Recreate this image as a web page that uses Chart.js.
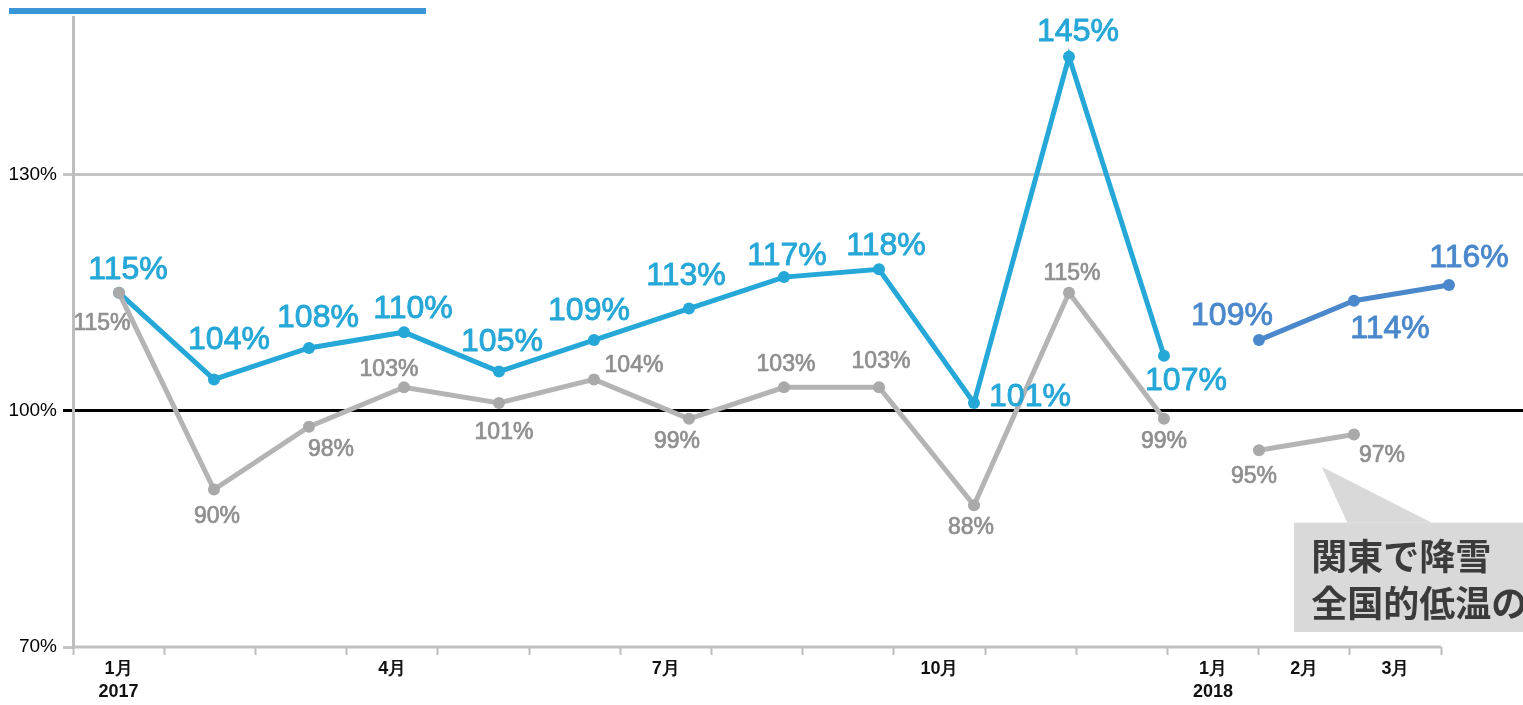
<!DOCTYPE html>
<html lang="ja">
<head>
<meta charset="utf-8">
<title>前年同月比</title>
<script src="https://cdn.jsdelivr.net/npm/chart.js@4.4.1/dist/chart.umd.min.js"></script>
<style>
  html, body { margin: 0; padding: 0; background: #fff; }
  #wrap { width: 1523px; height: 705px; }
</style>
</head>
<body>
<div id="wrap"><canvas id="yoy" width="1523" height="705"></canvas></div>
<script>
// 横軸の目盛りラベル（2017年1月〜2018年3月）
const monthLabels = [['1月', '2017'], '', '', '4月', '', '', '7月', '', '', '10月', '', '', ['1月', '2018'], '2月', '3月'];

// 青：2017年分と2018年分
const main2017 = [115, 104, 108, 110, 105, 109, 113, 117, 118, 101, 145, 107];
const main2018 = [109, 114, 116];
// グレー：2017年分と2018年分
const sub2017 = [115, 90, 98, 103, 101, 104, 99, 103, 103, 88, 115, 99];
const sub2018 = [95, 97];

// 縦軸の目盛り
const yTicks = [70, 100, 130];

// 吹き出しの文言
const noteLines = ['関東で降雪', '全国的低温の'];

// ラベルの位置ずらし（点からの dx, dy）
const main2017Offsets = [[9, -23], [15, -39], [9, -30], [9, -23], [3, -29], [-5, -29], [-3, -32], [3, -21], [7, -23], [56, -6], [9, -25], [22, 25]];
const main2018Offsets = [[-27, -24], [36, 28], [20, -27]];
const sub2017Offsets = [[-17, 31], [3, 27], [22, 23], [-15, -18], [5, 30], [40, -14], [-12, 23], [2, -23], [2, -26], [-3, 22], [3, -19], [0, 23]];
const sub2018Offsets = [[-5, 26], [28, 21]];

const CYAN = '#25a7d7';
const STEEL = '#4a88cb';
const GREY_LINE = '#b4b4b4';
const GREY_TEXT = '#8f8f8f';

function toPoints(values, start) {
    return values.map((v, i) => ({ x: start + i, y: v }));
}

function lineSet(values, start, color, pointColor, offsets, labelColor, labelFont, labelStroke) {
    return {
        data: toPoints(values, start),
        xAxisID: 'xp',
        borderColor: color,
        backgroundColor: pointColor,
        pointBackgroundColor: pointColor,
        pointBorderColor: pointColor,
        borderWidth: 5,
        pointRadius: 6,
        pointBorderWidth: 0,
        tension: 0,
        labelOffsets: offsets,
        labelColor: labelColor,
        labelFont: labelFont,
        labelStroke: labelStroke
    };
}

const bigFont = '32px "Liberation Sans", Arial, sans-serif';
const smallFont = '23px "Liberation Sans", Arial, sans-serif';

// 値ラベルを描く
const valueLabels = {
    id: 'valueLabels',
    afterDatasetsDraw(chart) {
        const ctx = chart.ctx;
        ctx.save();
        ctx.textAlign = 'center';
        ctx.textBaseline = 'middle';
        ctx.lineJoin = 'round';
        chart.data.datasets.forEach((ds, di) => {
            const meta = chart.getDatasetMeta(di);
            ctx.font = ds.labelFont;
            ctx.fillStyle = ds.labelColor;
            ctx.strokeStyle = ds.labelColor;
            ctx.lineWidth = ds.labelStroke;
            meta.data.forEach((pt, i) => {
                const [dx, dy] = ds.labelOffsets[i];
                const text = ds.data[i].y + '%';
                ctx.strokeText(text, pt.x + dx, pt.y + dy);
                ctx.fillText(text, pt.x + dx, pt.y + dy);
            });
        });
        ctx.restore();
    }
};

// 上部の青いライン、横軸の線、吹き出し
const decorations = {
    id: 'decorations',
    beforeDatasetsDraw(chart) {
        const ctx = chart.ctx;
        const area = chart.chartArea;
        const x = chart.scales.x;
        ctx.save();
        ctx.strokeStyle = '#c0c0c0';
        ctx.lineWidth = 3;
        ctx.beginPath();
        ctx.moveTo(area.left, area.bottom);
        ctx.lineTo(x.getPixelForValue(monthLabels.length - 0.5), area.bottom);
        ctx.stroke();

        ctx.fillStyle = '#3a96d6';
        ctx.fillRect(9, 8, 417, 6);
        ctx.restore();
    },
    afterDatasetsDraw(chart) {
        const ctx = chart.ctx;
        const xp = chart.scales.xp;
        const y = chart.scales.y;
        const left = xp.getPixelForValue(12.37);
        const top = y.getPixelForValue(85.8);
        const bottom = y.getPixelForValue(71.9);
        ctx.save();
        ctx.fillStyle = '#d9d9d9';
        ctx.beginPath();
        ctx.moveTo(xp.getPixelForValue(12.66), y.getPixelForValue(92.9));
        ctx.lineTo(xp.getPixelForValue(13.82), top);
        ctx.lineTo(xp.getPixelForValue(12.93), top);
        ctx.closePath();
        ctx.fill();
        ctx.fillRect(left, top, chart.width - left, bottom - top);

        ctx.fillStyle = '#3b3b3b';
        ctx.font = 'bold 36px "Noto Sans CJK JP", sans-serif';
        ctx.textAlign = 'left';
        ctx.textBaseline = 'middle';
        ctx.fillText(noteLines[0], left + 17, top + 34);
        ctx.fillText(noteLines[1], left + 17, top + 81);
        ctx.restore();
    }
};

const ctx = document.getElementById('yoy').getContext('2d');
const chart = new Chart(ctx, {
    type: 'line',
    data: {
        datasets: [
            lineSet(sub2017, 0, GREY_LINE, '#a9a9a9', sub2017Offsets, GREY_TEXT, smallFont, 0.7),
            lineSet(sub2018, 12, GREY_LINE, '#a9a9a9', sub2018Offsets, GREY_TEXT, smallFont, 0.7),
            lineSet(main2017, 0, CYAN, CYAN, main2017Offsets, CYAN, bigFont, 0.9),
            lineSet(main2018, 12, STEEL, STEEL, main2018Offsets, STEEL, bigFont, 0.9)
        ]
    },
    options: {
        responsive: false,
        animation: false,
        layout: { autoPadding: false, padding: { top: 14, right: 0, left: 0, bottom: 0 } },
        plugins: {
            legend: { display: false },
            tooltip: { enabled: false }
        },
        scales: {
            // 目盛り用の軸（月の境目に目盛り線、中央にラベル）
            x: {
                type: 'linear',
                position: 'bottom',
                min: -0.5,
                max: -0.5 + 1450 / 91.2,
                afterBuildTicks: (scale) => {
                    const t = [];
                    for (let i = 0; i <= monthLabels.length * 2; i++) {
                        t.push({ value: -0.5 + i / 2 });
                    }
                    scale.ticks = t;
                },
                afterFit: (scale) => { scale.height = 58; },
                border: { display: false },
                grid: {
                    drawOnChartArea: false,
                    tickLength: 8,
                    tickWidth: 2,
                    tickColor: (c) => Number.isInteger(c.tick.value) ? 'rgba(0,0,0,0)' : '#bdbdbd'
                },
                ticks: {
                    autoSkip: false,
                    maxRotation: 0,
                    padding: 3,
                    color: '#111',
                    font: { family: '"Liberation Sans", Arial, sans-serif', size: 18, weight: 'bold', lineHeight: 1.25 },
                    callback: (v) => Number.isInteger(v) ? monthLabels[v] : ''
                }
            },
            // データ点の位置用（非表示）
            xp: {
                type: 'linear',
                display: false,
                min: -0.484,
                max: -0.484 + 1450 / 95
            },
            y: {
                min: 70,
                max: 150,
                afterBuildTicks: (scale) => {
                    scale.ticks = yTicks.map(v => ({ value: v }));
                },
                afterFit: (scale) => { scale.width = 73; },
                border: { color: '#bdbdbd', width: 3 },
                grid: {
                    tickLength: 10,
                    lineWidth: 3,
                    color: (c) => c.tick.value === 100 ? '#000' : (c.tick.value === 70 ? 'rgba(0,0,0,0)' : '#c4c4c4'),
                    tickColor: (c) => c.tick.value === 100 ? '#000' : '#c4c4c4'
                },
                ticks: {
                    padding: 6,
                    color: '#000',
                    font: { family: '"Liberation Sans", Arial, sans-serif', size: 19 },
                    callback: (v) => v + '%'
                }
            }
        }
    },
    plugins: [decorations, valueLabels]
});
</script>
</body>
</html>
